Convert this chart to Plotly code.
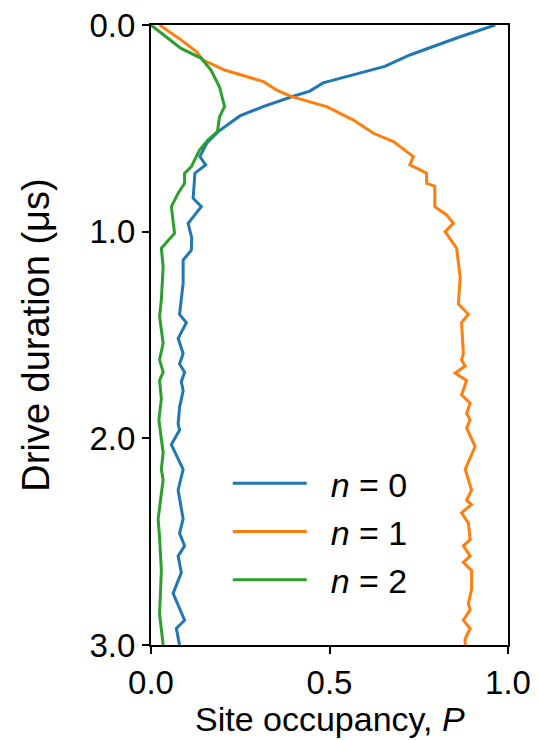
import plotly.graph_objects as go

# Drive duration (us) and site occupancy P for each Fock state
t_n0 = [0.0, 0.057, 0.145, 0.2, 0.28, 0.32, 0.347, 0.395, 0.44, 0.516, 0.572, 0.637, 0.677, 0.717,
        0.838, 0.879, 0.96, 1.03, 1.09, 1.137, 1.25, 1.40, 1.44, 1.516, 1.59, 1.64, 1.68, 1.726,
        1.77, 1.85, 1.93, 1.96, 2.03, 2.15, 2.25, 2.33, 2.39, 2.46, 2.52, 2.57, 2.65, 2.75, 2.88,
        2.92, 3.0]
p_n0 = [0.964, 0.866, 0.725, 0.655, 0.482, 0.445, 0.394, 0.314, 0.249, 0.188, 0.156, 0.137, 0.153, 0.123,
        0.118, 0.141, 0.104, 0.114, 0.113, 0.09, 0.09, 0.08, 0.099, 0.076, 0.09, 0.08, 0.094, 0.085,
        0.09, 0.08, 0.076, 0.08, 0.057, 0.09, 0.076, 0.085, 0.09, 0.08, 0.094, 0.076, 0.085, 0.062, 0.094,
        0.071, 0.08]

t_n1 = [0.0, 0.073, 0.129, 0.17, 0.2, 0.218, 0.274, 0.315, 0.347, 0.395, 0.46, 0.524, 0.564, 0.637,
        0.677, 0.717, 0.766, 0.78, 0.879, 0.919, 0.96, 1.0, 1.08, 1.22, 1.35, 1.40, 1.44, 1.59, 1.62,
        1.65, 1.685, 1.72, 1.79, 1.83, 1.88, 1.91, 1.95, 2.04, 2.15, 2.25, 2.30, 2.32, 2.36, 2.41,
        2.49, 2.52, 2.57, 2.60, 2.64, 2.73, 2.80, 2.83, 2.88, 2.92, 2.97, 3.0]
p_n1 = [0.024, 0.085, 0.127, 0.146, 0.184, 0.206, 0.315, 0.352, 0.394, 0.492, 0.567, 0.623, 0.679, 0.735,
        0.725, 0.772, 0.772, 0.795, 0.795, 0.828, 0.847, 0.824, 0.856, 0.866, 0.861, 0.889, 0.87, 0.875, 0.87,
        0.88, 0.852, 0.884, 0.87, 0.894, 0.884, 0.894, 0.884, 0.908, 0.88, 0.898, 0.884, 0.898, 0.87, 0.889,
        0.894, 0.875, 0.894, 0.875, 0.898, 0.898, 0.889, 0.894, 0.875, 0.894, 0.88, 0.88]

t_n2 = [0.0, 0.065, 0.113, 0.16, 0.218, 0.3, 0.395, 0.444, 0.516, 0.556, 0.605, 0.685, 0.718, 0.766,
        0.814, 0.879, 0.96, 1.008, 1.08, 1.17, 1.33, 1.41, 1.54, 1.62, 1.68, 1.72, 1.81, 1.91, 2.07,
        2.15, 2.2, 2.39, 2.48, 2.64, 2.85, 3.0]
p_n2 = [0.0, 0.048, 0.084, 0.14, 0.168, 0.192, 0.206, 0.192, 0.186, 0.16, 0.136, 0.113, 0.094, 0.094,
        0.076, 0.057, 0.062, 0.066, 0.029, 0.034, 0.029, 0.024, 0.034, 0.024, 0.034, 0.024, 0.029, 0.022, 0.034,
        0.029, 0.034, 0.02, 0.024, 0.029, 0.024, 0.034]

series = [
    ("<i>n</i> = 0", t_n0, p_n0, "#1f77b4"),
    ("<i>n</i> = 1", t_n1, p_n1, "#ff7f0e"),
    ("<i>n</i> = 2", t_n2, p_n2, "#2ca02c"),
]

x_ticks = [0.0, 0.5, 1.0]
y_ticks = [0.0, 1.0, 2.0, 3.0]

FONT = "Liberation Sans, Arial, Helvetica, sans-serif"

fig = go.Figure()
for i, (name, t, p, c) in enumerate(series):
    fig.add_trace(go.Scatter(x=p, y=t, mode="lines", name="\u00a0\u00a0" + name,
                             line=dict(color=c, width=3), legendgroup=f"g{i}"))

fig.update_layout(
    width=539, height=740,
    margin=dict(l=151, r=31, t=25, b=95),
    paper_bgcolor="white", plot_bgcolor="white",
    font=dict(family=FONT, color="black", size=32),
    showlegend=True,
    legend=dict(x=0.215, y=0.307, xanchor="left", yanchor="top",
                font=dict(size=34, family=FONT), bgcolor="rgba(0,0,0,0)",
                tracegroupgap=1, itemwidth=74),
    annotations=[dict(text="Site occupancy, <i>P</i>", xref="paper", yref="paper",
                      x=0.5, y=-0.0855, xanchor="center", yanchor="top", showarrow=False,
                      font=dict(size=34, family=FONT, color="black"))],
)
fig.update_xaxes(range=[0, 1], tickvals=x_ticks, tickformat=".1f", automargin=False,
                 showline=True, linecolor="black", linewidth=2, mirror=True,
                 ticks="outside", ticklen=7, tickwidth=1.5, tickcolor="black",
                 showgrid=False, zeroline=False,
                 tickfont=dict(size=33))
fig.update_yaxes(range=[3, 0], tickvals=y_ticks, tickformat=".1f", automargin=False,
                 showline=True, linecolor="black", linewidth=2, mirror=True,
                 ticks="outside", ticklen=7, tickwidth=1.5, tickcolor="black",
                 showgrid=False, zeroline=False,
                 tickfont=dict(size=33),
                 title=dict(text="Drive duration (μs)", font=dict(size=38), standoff=28))

fig.write_html("out.html")
